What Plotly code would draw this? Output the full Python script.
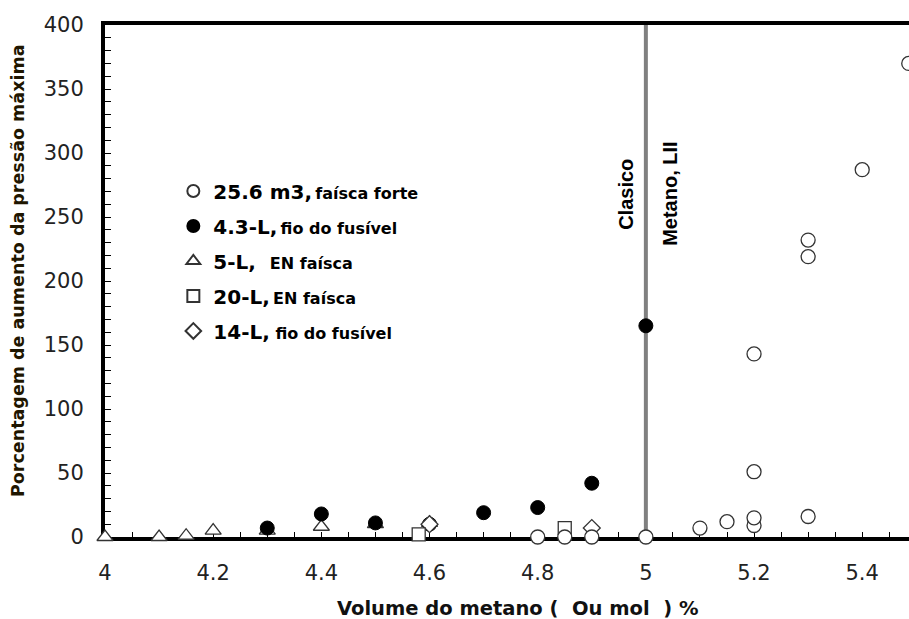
import plotly.graph_objects as go

# ---- data ----
big_x = [4.8, 4.85, 4.9, 5.0, 5.1, 5.15, 5.2, 5.2, 5.2, 5.2, 5.3, 5.3, 5.3, 5.4, 5.486]
big_y = [0, 0, 0, 0, 7, 12, 9, 15, 51, 143, 16, 219, 232, 287, 370]

l43_x = [4.3, 4.4, 4.5, 4.6, 4.7, 4.8, 4.9, 5.0]
l43_y = [7, 18, 11, 10, 19, 23, 42, 165]

l5_x = [4.0, 4.1, 4.15, 4.2, 4.3, 4.4, 4.5, 4.6]
l5_y = [0, 0, 1, 5, 5, 8, 10, 11]

l20_x = [4.58, 4.85]
l20_y = [2, 7]

l14_x = [4.6, 4.9]
l14_y = [10, 7]

LII = 5.0
x_ticks = [4, 4.2, 4.4, 4.6, 4.8, 5, 5.2, 5.4]
x_tick_text = ["4", "4.2", "4.4", "4.6", "4.8", "5", "5.2", "5.4"]
y_ticks = [0, 50, 100, 150, 200, 250, 300, 350, 400]

S = "<span style='font-size:16px'>"
names = [
    "<b>25.6 m3,</b><b>" + S + "\u2009faísca forte</span></b>",
    "<b>4.3-L,</b><b>" + S + "\u2009fio do fusível</span></b>",
    "<b>5-L,\u00a0\u00a0</b><b>" + S + "EN faísca</span></b>",
    "<b>20-L,</b><b>" + S + "\u2009EN faísca</span></b>",
    "<b>14-L,</b><b>" + S + "\u00a0fio do fusível</span></b>",
]

FONT = "DejaVu Sans, Verdana, sans-serif"
NARROW = "Liberation Sans Narrow, Arial Narrow, Liberation Sans, sans-serif"
edge = "#333333"

fig = go.Figure()
fig.add_trace(go.Scatter(x=l5_x, y=l5_y, mode="markers", name=names[2], legendgroup="c", legendrank=3,
                         marker=dict(symbol="triangle-up", size=14, color="white", line=dict(color=edge, width=1.3)),
                         cliponaxis=False))
fig.add_trace(go.Scatter(x=l43_x, y=l43_y, mode="markers", name=names[1], legendgroup="b", legendrank=2,
                         marker=dict(symbol="circle", size=14, color="black", line=dict(color="black", width=1)),
                         cliponaxis=False))
fig.add_trace(go.Scatter(x=l14_x, y=l14_y, mode="markers", name=names[4], legendgroup="e", legendrank=5,
                         marker=dict(symbol="diamond", size=13, color="white", line=dict(color=edge, width=1.3)),
                         cliponaxis=False))
fig.add_trace(go.Scatter(x=l20_x, y=l20_y, mode="markers", name=names[3], legendgroup="d", legendrank=4,
                         marker=dict(symbol="square", size=13, color="white", line=dict(color=edge, width=1.3)),
                         cliponaxis=False))
fig.add_trace(go.Scatter(x=big_x, y=big_y, mode="markers", name=names[0], legendgroup="a", legendrank=1,
                         marker=dict(symbol="circle", size=14, color="white", line=dict(color=edge, width=1.3)),
                         cliponaxis=False))

fig.add_shape(type="line", x0=LII, x1=LII, y0=0, y1=400, xref="x", yref="y",
              line=dict(color="#808080", width=4), layer="below")

fig.add_annotation(x=LII, y=268, xref="x", yref="y", text="<b>Clasico</b>", textangle=-90,
                   showarrow=False, xshift=-20, font=dict(family=NARROW, size=20, color="black"))
fig.add_annotation(x=LII, y=268, xref="x", yref="y", text="<b>Metano, LII</b>", textangle=-90,
                   showarrow=False, xshift=24, font=dict(family=NARROW, size=20, color="black"))

fig.add_annotation(xref="paper", yref="paper", x=(518 - 105) / 804, y=(537 - 608) / 512,
                   text="<b>Volume do metano (\u00a0\u00a0Ou mol\u00a0\u00a0) %</b>", showarrow=False,
                   font=dict(family=FONT, size=19.5, color="#111111"), yanchor="middle", xanchor="center")
fig.add_annotation(xref="paper", yref="paper", x=(18 - 105) / 804, y=(537 - 271) / 512,
                   text="<b>Porcentagem de aumento da pressão máxima</b>", showarrow=False, textangle=-90,
                   font=dict(family=FONT, size=17.5, color="#1f1600"), yanchor="middle", xanchor="center")

fig.update_layout(
    width=909, height=619,
    margin=dict(l=105, r=0, t=25, b=82),
    paper_bgcolor="white", plot_bgcolor="white",
    font=dict(family=FONT, color="#222222"),
    showlegend=True,
    legend=dict(x=0.085, y=0.714, xanchor="left", yanchor="top", bgcolor="rgba(0,0,0,0)",
                font=dict(family=FONT, size=20, color="black"), tracegroupgap=6,
                traceorder="grouped", itemsizing="constant"),
    xaxis=dict(range=[4, 5.4865], tickvals=x_ticks, ticktext=x_tick_text, showgrid=False, zeroline=False,
               showline=True, linewidth=4, linecolor="black", mirror=True,
               ticks="inside", ticklen=5, tickwidth=1, tickcolor="black",
               minor=dict(dtick=0.05, ticks="inside", ticklen=5, tickcolor="black", tickwidth=1, showgrid=False),
               tickfont=dict(family=FONT, size=21, color="#222222"), ticklabelstandoff=14,
               layer="below traces"),
    yaxis=dict(range=[0, 400], tickvals=y_ticks, showgrid=False, zeroline=False,
               showline=True, linewidth=4, linecolor="black",
               ticks="inside", ticklen=6, tickwidth=1, tickcolor="black",
               minor=dict(dtick=10, ticks="inside", ticklen=6, tickcolor="black", tickwidth=1, showgrid=False),
               tickfont=dict(family=FONT, size=21, color="#222222"), ticklabelstandoff=13,
               layer="below traces"),
)

fig.write_html("out.html")
